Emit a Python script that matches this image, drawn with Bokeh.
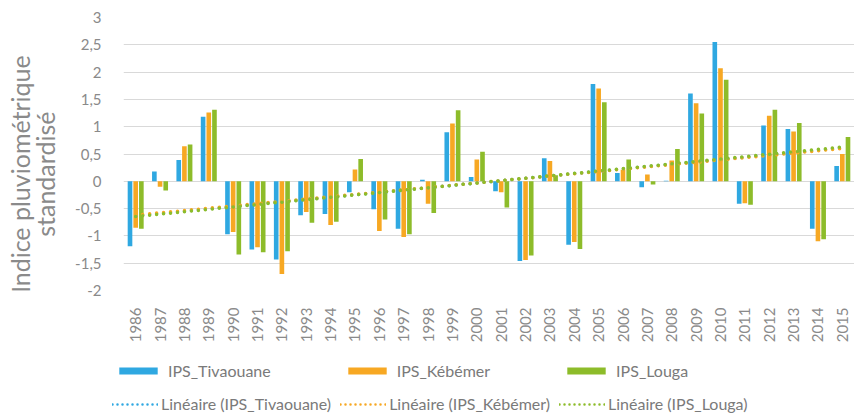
import numpy as np
from bokeh.plotting import figure
from bokeh.layouts import column, row
from bokeh.models import (FactorRange, Range1d, FixedTicker, Legend, LegendItem,
                          CustomJSTickFormatter, ColumnDataSource)
from bokeh.core.properties import value
from bokeh.transform import dodge
from bokeh.embed import file_html
from bokeh.resources import INLINE

years = [str(y) for y in range(1986, 2016)]
tivaouane = [-1.19, 0.18, 0.39, 1.18, -0.97, -1.25, -1.43, -0.62, -0.60, -0.20,
             -0.51, -0.87, 0.03, 0.90, 0.08, -0.18, -1.46, 0.42, -1.16, 1.78,
             0.15, -0.11, 0.01, 1.61, 2.55, -0.41, 1.02, 0.96, -0.87, 0.28]
kebemer = [-0.85, -0.10, 0.64, 1.26, -0.93, -1.21, -1.70, -0.56, -0.80, 0.215,
           -0.91, -1.02, -0.41, 1.06, 0.40, -0.20, -1.44, 0.37, -1.11, 1.70,
           0.21, 0.125, 0.38, 1.43, 2.07, -0.40, 1.20, 0.91, -1.10, 0.50]
louga = [-0.87, -0.17, 0.675, 1.31, -1.34, -1.30, -1.28, -0.76, -0.74, 0.41,
         -0.70, -0.97, -0.58, 1.30, 0.54, -0.48, -1.36, 0.11, -1.24, 1.45,
         0.40, -0.06, 0.59, 1.24, 1.86, -0.43, 1.31, 1.07, -1.06, 0.81]
series_names = ["IPS_Tivaouane", "IPS_Kébémer", "IPS_Louga"]
y_ticks = [-2, -1.5, -1, -0.5, 0, 0.5, 1, 1.5, 2, 2.5, 3]
y_title = ["Indice pluviométrique", "standardisé"]

colors = ["#2FA8E1", "#F7A823", "#8DBC2A"]
GRAY = "#8a8a8a"
FONT = "Lato"

idx = np.arange(len(years))
trends = []
for s in (tivaouane, kebemer, louga):
    a, b = np.polyfit(idx, np.array(s), 1)
    trends.append(list(a * idx + b))

src = ColumnDataSource(dict(years=years, t=tivaouane, k=kebemer, l=louga,
                            tt=trends[0], tk=trends[1], tl=trends[2]))

def bare_fig(w, h):
    fig = figure(width=w, height=h, x_range=Range1d(0, w), y_range=Range1d(0, h),
                 x_axis_type=None, y_axis_type=None,
                 output_backend="svg", toolbar_location=None,
                 min_border_left=0, min_border_right=0, min_border_top=0, min_border_bottom=0)
    fig.outline_line_color = None
    fig.background_fill_color = "white"
    fig.border_fill_color = "white"
    fig.xgrid.grid_line_color = None
    fig.ygrid.grid_line_color = None
    return fig

TOP_H = 345
# ---- left title panel
pl = bare_fig(66, TOP_H)
pl.text(x=[19, 44], y=[147, 147], text=y_title, angle=np.pi / 2,
        text_align="center", text_baseline="middle",
        text_font=value(FONT), text_font_size="25px", text_color=GRAY)

# ---- main chart
p = figure(width=788, height=TOP_H, x_range=FactorRange(*years), y_range=Range1d(-2, 3),
           output_backend="svg", toolbar_location=None,
           min_border_left=57, min_border_top=17, min_border_right=0, min_border_bottom=49)
p.outline_line_color = None
p.background_fill_color = "white"
p.border_fill_color = "white"

offs = [-0.233, 0.0, 0.233]
for col, off, c in zip(["t", "k", "l"], offs, colors):
    p.vbar(x=dodge("years", off, range=p.x_range), top=col, bottom=0, width=0.19,
           source=src, fill_color=c, line_color=None)

for col, c in zip(["tt", "tk", "tl"], colors):
    p.line(x="years", y=col, source=src, line_color=c, line_width=3.5,
           line_dash="0 7", line_cap="round")

p.yaxis.ticker = FixedTicker(ticks=y_ticks)
p.yaxis.formatter = CustomJSTickFormatter(code="return tick.toString().replace('.', ',');")
p.yaxis.axis_line_color = None
p.yaxis.major_tick_line_color = None
p.yaxis.minor_tick_line_color = None
p.yaxis.major_label_text_font = FONT
p.yaxis.major_label_text_font_size = "15px"
p.yaxis.major_label_text_color = GRAY
p.yaxis.major_label_standoff = 16

p.xaxis.axis_line_color = None
p.xaxis.major_tick_line_color = None
p.xaxis.minor_tick_line_color = None
p.xaxis.major_label_orientation = np.pi / 2
p.xaxis.major_label_text_font = FONT
p.xaxis.major_label_text_font_size = "15px"
p.xaxis.major_label_text_color = GRAY
p.xaxis.major_label_standoff = 11

p.xgrid.grid_line_color = None
p.ygrid.grid_line_color = "#d9d9d9"
p.ygrid.grid_line_width = 1

# ---- legend panel
p2 = bare_fig(854, 68)
bar_dummies = [p2.vbar(x=[-500], top=[-500], bottom=[-501], width=1, fill_color=c,
                       line_color=None) for c in colors]
line_dummies = [p2.line(x=[-500, -499], y=[-500, -500], line_color=c, line_width=2.5,
                        line_dash="0 5", line_cap="round") for c in colors]

def make_legend(items, gw, gh, spacing, loc, standoff):
    return Legend(items=items, orientation="horizontal", location=loc,
                  glyph_width=gw, glyph_height=gh, spacing=spacing,
                  label_text_font=FONT, label_text_font_size="16px",
                  label_text_color="#7a7a7a", label_standoff=standoff,
                  border_line_color=None, background_fill_alpha=0,
                  padding=0, margin=0, label_height=18)

leg1 = make_legend([LegendItem(label=n, renderers=[r]) for n, r in zip(series_names, bar_dummies)],
                   48, 9, 72, (114, 33), 6)
leg2 = make_legend([LegendItem(label="Linéaire (" + n + ")", renderers=[r])
                    for n, r in zip(series_names, line_dummies)], 46, 14, 9, (112, 0), 3)
p2.add_layout(leg1)
p2.add_layout(leg2)

layout = column(row(pl, p), p2)
open("out.html", "w").write(file_html(layout, INLINE))
